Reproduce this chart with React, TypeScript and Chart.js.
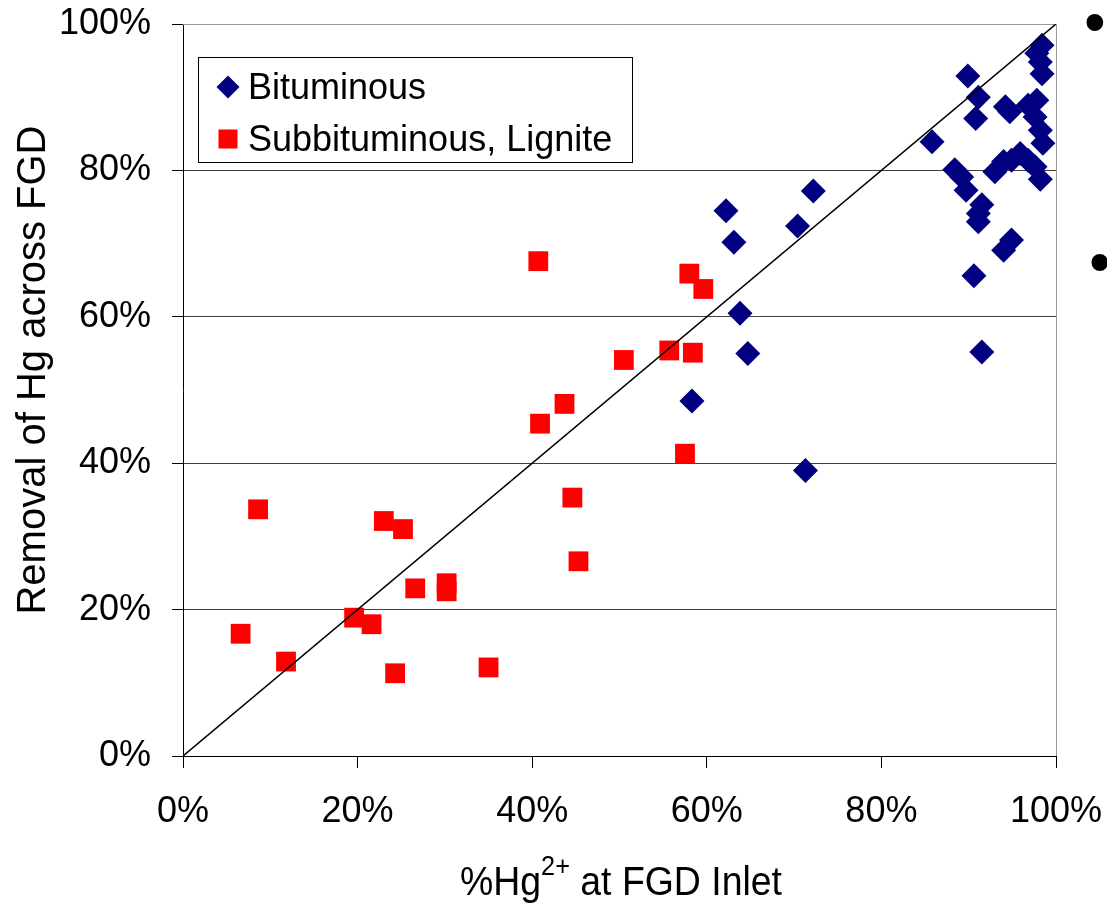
import React, { useEffect, useRef } from "react";
import { Chart, registerables } from "chart.js";

Chart.register(...registerables);

const FONT = "'Liberation Sans', Arial, Helvetica, sans-serif";

// ---- data ----
const seriesLabels = ["Bituminous", "Subbituminous, Lignite"];

const bituminousX = [
  89.9, 91.1, 90.8, 85.8, 94.2, 94.7, 98.4, 97.8, 98.2, 98.4,
  97.8, 96.8, 97.6, 98.2, 98.5, 88.4, 89.2, 89.7, 93.0, 94.0,
  94.9, 95.9, 96.8, 97.6, 98.2, 91.5, 91.1, 91.1, 94.9, 94.0,
  90.6, 91.5, 72.2, 62.2, 70.4, 63.1, 63.8, 64.7, 58.3, 71.3,
];
const bituminousY = [
  92.9, 90.0, 87.1, 83.9, 88.7, 88.0, 97.1, 96.0, 94.8, 93.2,
  89.6, 88.9, 87.3, 85.5, 83.7, 80.1, 79.1, 77.3, 79.8, 81.2,
  81.4, 82.3, 81.4, 80.5, 78.8, 75.3, 74.1, 73.0, 70.5, 69.1,
  65.6, 55.2, 77.2, 74.5, 72.4, 70.2, 60.5, 55.0, 48.5, 39.0,
];

const subbitX = [
  40.7, 43.7, 40.9, 44.6, 8.6, 23.0, 25.2, 45.3, 26.6, 30.2,
  30.2, 19.6, 21.6, 6.6, 11.8, 24.3, 35.0, 58.0, 59.6, 55.7,
  58.4, 50.5, 57.5,
];
const subbitY = [
  67.6, 48.1, 45.4, 35.3, 33.7, 32.1, 31.0, 26.6, 22.9, 23.6,
  22.5, 18.9, 18.0, 16.7, 12.9, 11.3, 12.1, 65.9, 63.8, 55.4,
  55.1, 54.1, 41.3,
];

const parityX = [0, 100];
const parityY = [0, 100];

const axisMin = 0;
const axisMax = 100;
const tickStep = 20;

const yTitle = "Removal of Hg across FGD";
const xTitleParts = ["%Hg", "2+", " at FGD Inlet"];
const bullets = ["•", "•"];

const NAVY = "#000080";
const RED = "#FF0000";

const toPoints = (xs: number[], ys: number[]) => xs.map((x, i) => ({ x, y: ys[i] }));

const overlayPlugin = {
  id: "overlay",
  beforeDatasetsDraw(chart: any) {
    const ctx = chart.ctx as CanvasRenderingContext2D;
    const { left, right, top, bottom } = chart.chartArea;
    ctx.save();
    ctx.strokeStyle = "#999999";
    ctx.lineWidth = 1;
    ctx.beginPath();
    ctx.moveTo(left, Math.round(top) + 0.5);
    ctx.lineTo(Math.round(right) + 0.5, Math.round(top) + 0.5);
    ctx.lineTo(Math.round(right) + 0.5, bottom);
    ctx.stroke();
    ctx.restore();
  },
  afterDraw(chart: any) {
    const ctx = chart.ctx as CanvasRenderingContext2D;
    ctx.save();

    // legend box
    const bx = 198.5, by = 57.5, bw = 434, bh = 105;
    ctx.fillStyle = "#ffffff";
    ctx.fillRect(bx, by, bw, bh);
    ctx.strokeStyle = "#000";
    ctx.lineWidth = 1;
    ctx.strokeRect(bx, by, bw, bh);

    // diamond
    const dcx = 228, dcy = 87, dr = 11.5;
    ctx.fillStyle = NAVY;
    ctx.beginPath();
    ctx.moveTo(dcx, dcy - dr);
    ctx.lineTo(dcx + dr, dcy);
    ctx.lineTo(dcx, dcy + dr);
    ctx.lineTo(dcx - dr, dcy);
    ctx.closePath();
    ctx.fill();
    // square
    const scx = 228, scy = 139, ss = 19;
    ctx.fillStyle = RED;
    ctx.fillRect(scx - ss / 2, scy - ss / 2, ss, ss);

    ctx.fillStyle = "#000";
    ctx.font = `36px ${FONT}`;
    ctx.textAlign = "left";
    ctx.textBaseline = "alphabetic";
    ctx.fillText(seriesLabels[0], 248, 99);
    ctx.fillText(seriesLabels[1], 248, 151);

    // y title
    ctx.save();
    ctx.translate(45, 370);
    ctx.rotate(-Math.PI / 2);
    ctx.font = `40px ${FONT}`;
    ctx.textAlign = "center";
    ctx.textBaseline = "alphabetic";
    ctx.fillText(yTitle, 0, 0);
    ctx.restore();

    // x title with superscript
    ctx.save();
    const sizes = [40, 27, 40];
    const dys = [0, -20, 0];
    let total = 0;
    const widths = xTitleParts.map((t, i) => {
      ctx.font = `${sizes[i]}px ${FONT}`;
      const w = ctx.measureText(t).width;
      total += w;
      return w;
    });
    const targetW = 322;
    const sx = targetW / total;
    ctx.translate(621 - targetW / 2, 895);
    ctx.scale(sx, 1);
    ctx.textAlign = "left";
    let cx = 0;
    xTitleParts.forEach((t, i) => {
      ctx.font = `${sizes[i]}px ${FONT}`;
      ctx.fillText(t, cx, dys[i]);
      cx += widths[i];
    });
    ctx.restore();

    // slide bullets
    const bulletCenters = [
      [1095, 22],
      [1100, 262],
    ];
    const targetDiam = 18;
    bullets.forEach((b, i) => {
      ctx.font = `100px ${FONT}`;
      const m = ctx.measureText(b);
      const inkW = Math.abs(m.actualBoundingBoxLeft + m.actualBoundingBoxRight);
      const size = inkW > 1 ? (100 * targetDiam) / inkW : 50;
      ctx.font = `${size}px ${FONT}`;
      const m2 = ctx.measureText(b);
      const [bxC, byC] = bulletCenters[i];
      const x = bxC - (m2.actualBoundingBoxRight - m2.actualBoundingBoxLeft) / 2;
      const y = byC + (m2.actualBoundingBoxAscent - m2.actualBoundingBoxDescent) / 2;
      ctx.textAlign = "left";
      ctx.textBaseline = "alphabetic";
      ctx.fillStyle = "#000";
      ctx.fillText(b, x, y);
    });

    ctx.restore();
  },
};

export default function App() {
  const ref = useRef<HTMLCanvasElement>(null);

  useEffect(() => {
    const canvas = ref.current!;
    const chart = new Chart(canvas, {
      type: "scatter",
      data: {
        datasets: [
          {
            label: "parity",
            data: toPoints(parityX, parityY),
            showLine: true,
            borderColor: "#000",
            borderWidth: 1.5,
            pointRadius: 0,
            order: -1,
            clip: 0,
          } as any,
          {
            label: seriesLabels[0],
            data: toPoints(bituminousX, bituminousY),
            pointStyle: "rectRot",
            pointRadius: 12.5,
            backgroundColor: NAVY,
            borderColor: NAVY,
            borderWidth: 0,
            order: 1,
          },
          {
            label: seriesLabels[1],
            data: toPoints(subbitX, subbitY),
            pointStyle: "rect",
            pointRadius: 14,
            backgroundColor: RED,
            borderColor: RED,
            borderWidth: 0,
            order: 2,
          },
        ],
      },
      options: {
        responsive: false,
        maintainAspectRatio: false,
        animation: false,
        layout: { autoPadding: false, padding: { top: 24, right: 51, left: 0, bottom: 0 } },
        plugins: {
          legend: { display: false },
          tooltip: { enabled: false },
        },
        scales: {
          x: {
            type: "linear",
            min: axisMin,
            max: axisMax,
            afterFit: (scale: any) => {
              scale.height = 148;
              scale.paddingLeft = 0;
              scale.paddingRight = 0;
            },
            ticks: {
              stepSize: tickStep,
              padding: 22,
              color: "#000",
              font: { family: FONT, size: 36 },
              callback: (v: any) => `${v}%`,
            },
            grid: {
              drawOnChartArea: false,
              drawTicks: true,
              tickLength: 12,
              tickColor: "#000",
            },
            border: { display: true, color: "#000", width: 1 },
          },
          y: {
            type: "linear",
            min: axisMin,
            max: axisMax,
            afterFit: (scale: any) => {
              scale.width = 183;
              scale.paddingTop = 0;
              scale.paddingBottom = 0;
            },
            ticks: {
              stepSize: tickStep,
              padding: 21,
              color: "#000",
              font: { family: FONT, size: 36 },
              callback: (v: any) => `${v}%`,
            },
            grid: {
              drawOnChartArea: true,
              drawTicks: true,
              tickLength: 11,
              tickColor: "#000",
              color: (c: any) =>
                c.tick && (c.tick.value === axisMin || c.tick.value === axisMax)
                  ? "rgba(0,0,0,0)"
                  : "#404040",
            },
            border: { display: true, color: "#000", width: 1 },
          },
        },
      },
      plugins: [overlayPlugin],
    });
    return () => chart.destroy();
  }, []);

  return (
    <div
      style={{
        position: "fixed",
        left: 0,
        top: 0,
        width: 1107,
        height: 904,
        background: "#ffffff",
        overflow: "hidden",
      }}
    >
      <canvas
        ref={ref}
        width={1107}
        height={904}
        style={{ display: "block", width: 1107, height: 904 }}
      />
    </div>
  );
}
